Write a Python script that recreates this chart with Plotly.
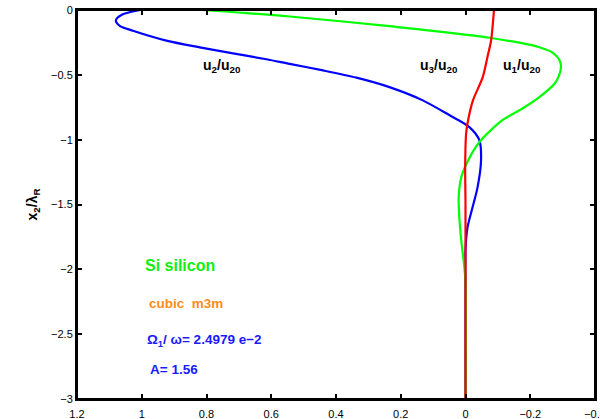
import plotly.graph_objects as go

# u2/u20 (blue)
u2_x = [1.004, 1.06, 1.080, 1.068, 1.027, 0.924, 0.821, 0.718, 0.615, 0.543, 0.440, 0.337, 0.235, 0.132, 0.049, -0.012, -0.043, -0.048, -0.037, -0.022, -0.006, 0.0, 0.0, 0.0]
u2_y = [0.0, -0.035, -0.081, -0.122, -0.160, -0.236, -0.288, -0.334, -0.380, -0.416, -0.466, -0.522, -0.595, -0.697, -0.812, -0.903, -1.005, -1.16, -1.37, -1.52, -1.68, -1.85, -2.2, -3.0]

# u1/u20 (green)
u1_x = [0.813, 0.543, 0.235, -0.074, -0.228, -0.270, -0.290, -0.295, -0.288, -0.275, -0.228, -0.176, -0.114, -0.043, -0.006, 0.013, 0.021, 0.019, 0.013, 0.005, 0.0, 0.0]
u1_y = [0.0, -0.05, -0.125, -0.214, -0.287, -0.330, -0.385, -0.44, -0.51, -0.569, -0.672, -0.76, -0.85, -1.018, -1.17, -1.29, -1.44, -1.6, -1.78, -1.95, -2.1, -3.0]

# u3/u20 (red)
u3_x = [-0.088, -0.079, -0.068, -0.053, -0.023, -0.008, -0.002, 0.001, 0.0, 0.0]
u3_y = [0.0, -0.235, -0.36, -0.52, -0.697, -0.85, -0.95, -1.2, -1.5, -3.0]

x_ticks = [1.2, 1.0, 0.8, 0.6, 0.4, 0.2, 0.0, -0.2, -0.4]
x_ticktext = ["1.2", "1", "0.8", "0.6", "0.4", "0.2", "0", "−0.2", "−0.4"]
y_ticks = [0, -0.5, -1, -1.5, -2, -2.5, -3]
y_ticktext = ["0", "−0.5", "−1", "−1.5", "−2", "−2.5", "−3"]

FONT = "Liberation Sans, Arial, Helvetica, sans-serif"

fig = go.Figure()
line_style = dict(width=2.2, shape="spline", smoothing=0.8)
fig.add_trace(go.Scatter(x=u2_x, y=u2_y, mode="lines", line=dict(color="#0000ff", **line_style), showlegend=False))
fig.add_trace(go.Scatter(x=u1_x, y=u1_y, mode="lines", line=dict(color="#00ff00", **line_style), showlegend=False))
fig.add_trace(go.Scatter(x=u3_x, y=u3_y, mode="lines", line=dict(color="#ff0000", **line_style), showlegend=False))

labels = [
    (0.753, -0.43, "<b>u<sub>2</sub>/u<sub>20</sub></b>", "black", 14, "center"),
    (0.083, -0.43, "<b>u<sub>3</sub>/u<sub>20</sub></b>", "black", 14, "center"),
    (-0.174, -0.43, "<b>u<sub>1</sub>/u<sub>20</sub></b>", "black", 14, "center"),
    (0.997, -1.968, "<b>Si silicon</b>", "#11ee11", 16, "left"),
    (0.985, -2.26, "<b>cubic  m3m</b>", "#ff8c1a", 13.5, "left"),
    (0.991, -2.546, "<b>Ω<sub>1</sub>/ ω= 2.4979 e−2</b>", "#1a1aff", 13.5, "left"),
    (0.981, -2.77, "<b>A= 1.56</b>", "#1a1aff", 13.5, "left"),
]
for x, y, t, c, s, a in labels:
    fig.add_annotation(x=x, y=y, text=t, showarrow=False, xanchor=a, yanchor="middle",
                       font=dict(color=c, size=s, family=FONT))

# box around the plot area
fig.add_shape(type="rect", xref="paper", yref="paper", x0=0, x1=1, y0=0, y1=1,
              line=dict(color="black", width=2), fillcolor="rgba(0,0,0,0)", layer="above")

axis_common = dict(showline=True, linecolor="black", linewidth=2, mirror="allticks",
                   ticks="inside", ticklen=5, tickcolor="black", tickwidth=1.5,
                   showgrid=False, zeroline=False, automargin=False, ticklabeloverflow="allow")

fig.update_layout(
    width=600, height=419,
    margin=dict(l=77, r=5, t=10, b=20, autoexpand=False),
    paper_bgcolor="white", plot_bgcolor="white",
    font=dict(family=FONT, size=11, color="black"),
    xaxis=dict(range=[1.2, -0.4], tickvals=x_ticks, ticktext=x_ticktext, ticklabelstandoff=4, **axis_common),
    yaxis=dict(range=[-3, 0], tickvals=y_ticks, ticktext=y_ticktext, **axis_common,
               title=dict(text="<b>x<sub>2</sub>/λ<sub>R</sub></b>", font=dict(size=14, family=FONT), standoff=10)),
)

# remove the page's default 8px body margin so the 600x419 figure fills the window exactly
fig.write_html("out.html", config={"displayModeBar": False},
               post_script="document.body.style.margin='0';")
